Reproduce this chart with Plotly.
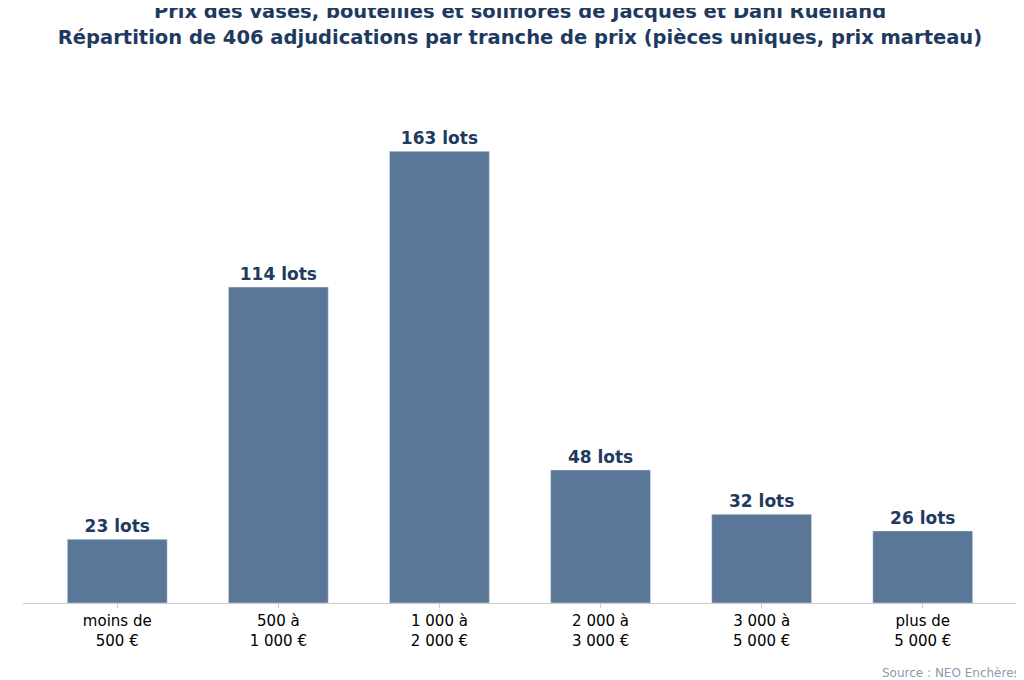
import plotly.graph_objects as go

categories = ["moins de<br>500 €", "500 à<br>1 000 €", "1 000 à<br>2 000 €", "2 000 à<br>3 000 €", "3 000 à<br>5 000 €", "plus de<br>5 000 €"]
counts = [23, 114, 163, 48, 32, 26]
labels = [f"{c} lots" for c in counts]

fig = go.Figure(go.Bar(
    x=list(range(len(categories))), y=counts, text=labels, textposition="outside",
    marker_color="#5b7798", width=0.62,
    textfont=dict(size=17, color="#1f3a5f", family="DejaVu Sans", weight="bold"),
    cliponaxis=False,
))
fig.update_layout(
    width=1024, height=680,
    margin=dict(l=15, r=15, t=74, b=85),
    plot_bgcolor="white", paper_bgcolor="white",
    font=dict(family="DejaVu Sans", size=15, color="black"),
    title=dict(
        text="<b>Prix des vases, bouteilles et soliflores de Jacques et Dani Ruelland<br>Répartition de 406 adjudications par tranche de prix (pièces uniques, prix marteau)</b>",
        x=0.5, xanchor="center", y=0.985, yanchor="top",
        font=dict(size=19.5, color="#1f3a5f", family="DejaVu Sans"),
    ),
    xaxis=dict(showline=True, linecolor="#cccccc", ticks="outside", tickcolor="#cccccc", ticklen=4,
               tickmode="array", tickvals=list(range(len(categories))), ticktext=categories,
               range=[-0.585, 5.585]),
    yaxis=dict(visible=False, range=[0, 188]),
    showlegend=False,
    annotations=[dict(text="Source : NEO Enchères", x=1.005, xref="paper", xanchor="right",
                      y=-0.134, yref="paper", yanchor="middle", showarrow=False,
                      font=dict(size=12, color="#8a9bb0"))],
)
fig.write_html("out.html")
